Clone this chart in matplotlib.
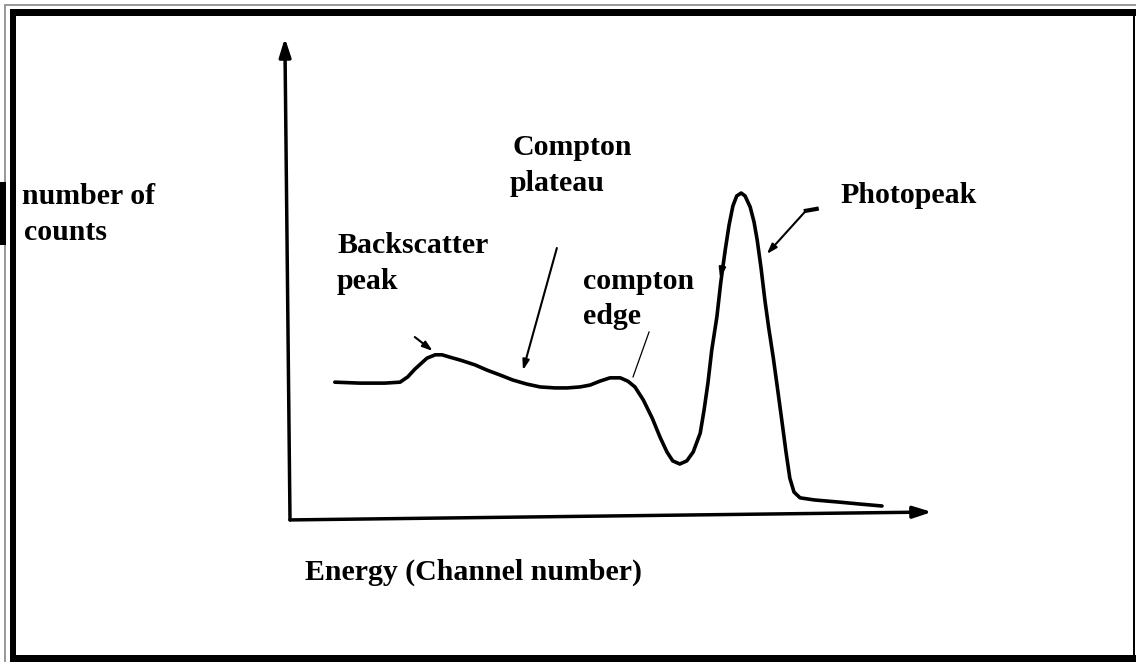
import matplotlib
matplotlib.use("Agg")
import matplotlib.pyplot as plt
from matplotlib.patches import Rectangle

W, H = 1136, 662

# spectrum (channel, counts), both on a 0-100 scale
channel = [7.0, 10.9, 14.8, 17.2, 18.4, 19.5, 21.4, 22.7, 23.75, 25.0, 26.6, 28.9,
           30.8, 32.8, 34.8, 37.0, 39.1, 41.4, 43.3, 45.3, 46.9, 48.4, 50.0, 51.6,
           52.8, 53.9, 55.2, 56.6, 57.8, 58.9, 59.8, 60.9, 62.0, 63.0, 64.1, 64.7,
           65.3, 65.9, 66.7, 67.3, 68.0, 68.6, 69.2, 69.8, 70.5, 71.1, 71.9, 72.5,
           73.0, 73.6, 74.2, 74.8, 75.5, 76.1, 76.9, 77.5, 78.1, 78.75, 79.7, 82.0,
           85.9, 89.1, 92.5]
counts = [28.3, 28.1, 28.1, 28.3, 29.4, 31.0, 33.3, 34.0, 34.0, 33.5, 32.9, 31.9,
          30.8, 29.8, 28.75, 27.9, 27.3, 27.1, 27.1, 27.3, 27.7, 28.5, 29.2, 29.2,
          28.5, 27.3, 24.6, 20.8, 16.9, 13.75, 11.9, 11.25, 11.9, 13.75, 17.7, 22.5,
          28.1, 35.0, 41.9, 49.0, 55.8, 61.0, 65.0, 67.1, 67.7, 67.1, 64.8, 61.7,
          57.9, 52.1, 45.4, 39.6, 33.5, 27.7, 19.8, 13.75, 8.3, 5.4, 4.2, 3.75,
          3.3, 2.9, 2.5]

# labels: text, left x px, baseline y px
labels = [("number of", 22, 204), ("counts", 24, 240),
          ("Compton", 512, 155), ("plateau", 510, 191),
          ("Backscatter", 337, 253), ("peak", 337, 289),
          ("compton", 583, 289), ("edge", 583, 324),
          ("Photopeak", 840, 203),
          ("Energy (Channel number)", 305, 580)]


def fx(x):
    return x / W


def fy(y):
    return 1 - y / H


fig = plt.figure(figsize=(W / 100, H / 100), dpi=100)
fig.patch.set_facecolor("white")

# axes placed so the origin of the sketch sits at (290, 518) px
ax = fig.add_axes([fx(290), fy(518), (930 - 290) / W, (518 - 38) / H])
ax.set_xlim(0, 100)
ax.set_ylim(0, 100)
ax.axis("off")

ax.plot(channel, counts, color="black", lw=2.6, solid_capstyle="round",
        solid_joinstyle="round", clip_on=False)

# hand drawn axes
big = dict(arrowstyle="-|>,head_length=1.1,head_width=0.35", color="black",
           lw=2.5, shrinkA=0, shrinkB=0)
ax.annotate("", xy=(-0.8, 100), xytext=(0, -0.4), arrowprops=big,
            annotation_clip=False)
ax.annotate("", xy=(100.3, 1.25), xytext=(0, -0.4), arrowprops=big,
            annotation_clip=False)

# pointer arrows
small = dict(arrowstyle="-|>,head_length=0.6,head_width=0.2", color="black",
             lw=1.5, shrinkA=0, shrinkB=0)
ax.annotate("", xy=(22.3, 34.8), xytext=(19.5, 37.7), arrowprops=small)
ax.annotate("", xy=(36.4, 30.8), xytext=(41.7, 56.25), arrowprops=small)
ax.annotate("", xy=(74.5, 55.0), xytext=(80.6, 64.0), arrowprops=small)
ax.annotate("", xy=(67.2, 50.0), xytext=(68.0, 55.2), arrowprops=small)
ax.plot([80.6, 82.3], [64.0, 64.4], color="black", lw=3, clip_on=False)
ax.plot([56.1, 53.6], [38.75, 29.4], color="black", lw=0.9, clip_on=False)

for txt, x, y in labels:
    fig.text(fx(x), fy(y), txt, ha="left", va="baseline", fontsize=21.5,
             fontweight="bold", family="Liberation Serif")

# picture frame
def rect(x0, y0, x1, y1, c):
    fig.add_artist(Rectangle((fx(x0), fy(y1)), (x1 - x0) / W, (y1 - y0) / H,
                             transform=fig.transFigure, color=c, lw=0))

rect(4, 4, W, 6, "#9a9a9a")
rect(4, 4, 6, H, "#9a9a9a")
rect(10, 9, W, 16, "black")
rect(10, 9, 16, H, "black")
rect(10, 655, W, H, "black")
rect(1133, 9, 1135, H, "black")
rect(0, 182, 6, 245, "black")

fig.savefig("out.png", dpi=100)
